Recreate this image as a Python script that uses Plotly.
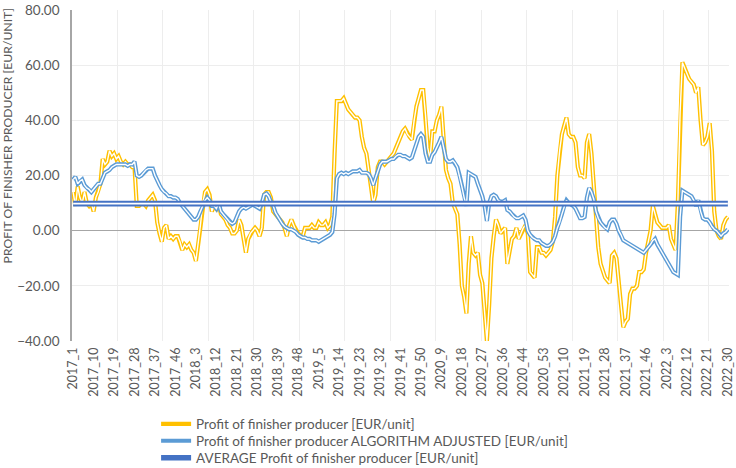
import plotly.graph_objects as go

# ---- categories (ISO weeks as in the source sheet) ----
WEEKS = ([f"2017_{w}" for w in range(1, 53)] +
         [f"2018_{w}" for w in range(1, 53)] +
         [f"2019_{w}" for w in range(1, 51)] +
         [f"2020_{w}" for w in list(range(1, 41)) + [40] + list(range(41, 54))] +
         [f"2021_{w}" for w in range(2, 53)] +
         [f"2022_{w}" for w in range(1, 31)])

PROFIT = [
    14, 9, 16, 12, 10, 14, 10, 9, 10, 7,
    12, 14, 17, 26, 24, 25, 29, 27, 28, 26,
    27, 25, 24, 25, 24, 24, 23, 23, 9, 9,
    10, 10, 9, 11, 12, 13, 11, 3, -1, -4,
    1, 2, -3, -2, -3, -2, -2, -4, -7, -5,
    -6, -5, -7, -8, -11, -5, 2, 10, 14, 15,
    13, 7, 9, 8, 10, 6, 5, 4, 2, 1,
    -1, -1, 0, 4, 2, -3, -8, -3, -1, 0,
    1, 0, -2, 1, 13, 14, 14, 12, 7, 6,
    5, 4, 3, 1, -2, 2, 4, 2, 0, -1,
    -2, -2, 1, 1, 1, 2, 1, 1, 3, 2,
    2, 3, 1, 2, 5, 28, 47, 47, 47, 48,
    46, 44, 43, 42, 41, 41, 40, 34, 30, 28,
    22, 16, 10, 13, 23, 25, 25, 24, 25, 26,
    27, 28, 30, 32, 34, 36, 37, 35, 34, 33,
    40, 45, 48, 51, 51, 42, 30, 26, 36, 36,
    40, 42, 45, 33, 22, 19, 17, 10, 8, 6,
    -5, -20, -24, -30, -12, -2, -8, -9, -8, -16,
    -19, -28, -40, -27, -10, -2, 4, 2, -1, 0,
    1, -12, -8, -3, -2, 1, -3, -1, 1, 2,
    -1, -15, -16, -17, -6, -6, -8, -8, -9, -8,
    -7, -4, 5, 20, 29, 35, 38, 41, 35, 34,
    34, 32, 23, 20, 20, 19, 32, 35, 28, 17,
    4, -6, -12, -15, -17, -18, -19, -9, -8, -10,
    -20, -27, -35, -33, -32, -23, -21, -21, -20, -15,
    -15, -14, -8, -4, 0, 9, 6, 3, 2, 1,
    1, 1, 2, -3, -5, -7, 10, 43, 61, 59,
    57, 55, 54, 53, 50, 52, 40, 31, 32, 34,
    39, 29, 7, 0, -2, -3, 2, 4, 5,
]

PROFIT_ADJ = [
    18.5, 19.5, 17, 18, 18.5, 16.5, 15.5, 15, 14, 15,
    16, 17, 17, 19, 21, 21.5, 22, 23, 23.5, 24,
    24, 24, 24, 24, 23.5, 24, 24, 25, 20, 19.5,
    20, 21, 22, 22.5, 22.5, 22.5, 20, 18, 16.5, 15,
    14, 13.5, 12.5, 12.5, 12, 12, 11.5, 10, 9, 8,
    7, 6, 5, 4, 4, 5, 7, 9, 11, 12,
    11, 9, 9, 8, 10, 7, 6, 5, 4, 3,
    2.5, 3, 5, 7, 8, 8.5, 8, 8.5, 9, 9.5,
    9, 8.5, 8, 10, 13, 13.5, 12.5, 10.5, 9, 6.5,
    5, 4, 2.5, 1.5, 1, 0.5, 0.5, 0, -0.5, -1.5,
    -2, -2.5, -2.5, -3, -3, -3.5, -3.5, -3.5, -4, -3.5,
    -3, -2.5, -2, -1.5, -0.5, 6, 19, 20.5, 21, 20.5,
    21, 20.5, 21, 21.5, 21.5, 21.5, 22, 21, 21, 21,
    20.5, 19, 16.5, 19, 22, 24, 25, 25, 25, 25.5,
    26, 26, 27, 27.5, 27.5, 27, 27, 26.5, 26, 26.5,
    29, 32, 34, 35, 34, 28, 25, 25, 27.5, 28.5,
    30, 32, 34, 30, 26, 25, 25, 25.5, 24.5, 23,
    20, 16, 12, 9, 21, 20.5, 20, 19.5, 17, 15,
    12.5, 9, 3.5, 10, 12.5, 13, 12.5, 11, 10.5, 10.5,
    11, 7.5, 7, 6, 5, 4.5, 4.5, 5, 5.5, 4,
    0, -1.5, -2.5, -3, -3.5, -3.5, -4.5, -5, -5.5, -5.5,
    -5, -4, -2, 1, 3, 6, 9, 11, 10, 9.5,
    9, 8, 6, 4.5, 4.5, 5, 12, 15.5, 14, 11.5,
    7, 4.5, 3, 2, 1, 0.5, 3, 4, 4, 2.5,
    0, -1.5, -3.5, -4, -4.5, -5, -5.5, -6, -6.5, -7,
    -7.5, -8, -7, -6, -5, -3.5, -3, -5, -6.5, -8,
    -9.5, -11, -12.5, -13.5, -15, -15.5, -16, 5, 14.5, 14,
    13.5, 13, 12.5, 11, 9, 11, 7, 4.5, 4, 4,
    3, 1.5, 0.5, 0, -1, -2, -1, -0.5, 0.5,
]

AVERAGE_VALUE = 9.8
AVERAGE = [AVERAGE_VALUE] * len(WEEKS)

NAMES = ["Profit of finisher producer [EUR/unit]",
         "Profit of finisher producer ALGORITHM ADJUSTED [EUR/unit]",
         "AVERAGE Profit of finisher producer [EUR/unit]"]
COLORS = ["#FFC000", "#5B9BD5", "#4472C4"]
LABEL_STEP = 9

X = list(range(len(WEEKS)))
FONT = "Lato, 'Open Sans', sans-serif"
TXT = "#595959"

fig = go.Figure()
series = [(PROFIT, 4.2, 1.4), (PROFIT_ADJ, 4.2, 1.4), (AVERAGE, 5.6, 1.9)]
legend_ids = ["legend", "legend2", "legend3"]
for (vals, w_out, w_in), name, col, lg in zip(series, NAMES, COLORS, legend_ids):
    fig.add_trace(go.Scatter(x=X, y=vals, mode="lines", name=name, legend=lg,
                             line=dict(color=col, width=w_out),
                             hoverinfo="skip"))
    fig.add_trace(go.Scatter(x=X, y=vals, mode="lines", showlegend=False,
                             line=dict(color="white", width=w_in),
                             hoverinfo="skip"))

legend_rows_y = [0.094, 0.0577, 0.0214]   # container fractions of the three legend rows
legend_style = dict(orientation="v", x=0.128, xanchor="left", yref="container",
                    yanchor="middle", font=dict(size=13.5, color=TXT),
                    bgcolor="rgba(0,0,0,0)", itemwidth=30)

fig.update_layout(
    width=736, height=468,
    margin=dict(l=72, r=7, t=10, b=126.5, autoexpand=False),
    paper_bgcolor="white", plot_bgcolor="white",
    font=dict(family=FONT, color=TXT, size=12),
    showlegend=True,
    legend=dict(y=legend_rows_y[0], **legend_style),
    legend2=dict(y=legend_rows_y[1], **legend_style),
    legend3=dict(y=legend_rows_y[2], **legend_style),
    annotations=[dict(text="PROFIT OF FINISHER PRODUCER [EUR/UNIT]",
                      textangle=-90, xref="paper", yref="paper",
                      x=-0.0984, y=0.228, xanchor="center", yanchor="bottom",
                      showarrow=False, font=dict(size=12.2, color=TXT, family=FONT))],
)

fig.update_xaxes(
    range=[-0.5, len(WEEKS) - 0.5], automargin=False,
    tickmode="array", tickvals=X[::LABEL_STEP], ticktext=WEEKS[::LABEL_STEP],
    tickangle=-90, tickfont=dict(size=12.5, color=TXT), ticklabelstandoff=3,
    showgrid=False, showline=False, zeroline=False, ticks="",
    minor=dict(tickmode="linear", tick0=-0.5, dtick=20, showgrid=True,
               gridcolor="#EDEDED", gridwidth=1, ticks=""),
)
fig.update_yaxes(
    range=[-40, 80], dtick=20, tick0=-40, tickformat=".2f", automargin=False,
    tickfont=dict(size=13.5, color=TXT), ticklabelstandoff=8,
    showgrid=True, gridcolor="#EDEDED", gridwidth=1,
    zeroline=True, zerolinecolor="#A6A6A6", zerolinewidth=1.3,
    showline=True, linecolor="#A6A6A6", linewidth=1.6, ticks="",
)

fig.write_html("out.html")
